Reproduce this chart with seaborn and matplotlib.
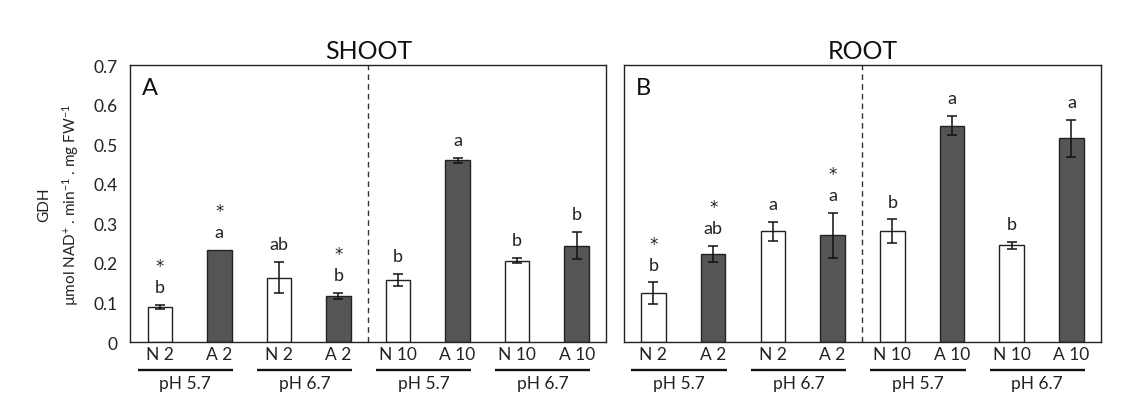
import numpy as np
import pandas as pd
import matplotlib
matplotlib.use("Agg")
import matplotlib.pyplot as plt
import seaborn as sns

sns.set_theme(style="white")
plt.rcParams["font.family"] = ["Lato", "DejaVu Sans"]
plt.rcParams["mathtext.fontset"] = "custom"
plt.rcParams["mathtext.rm"] = "Lato"
plt.rcParams["mathtext.it"] = "Lato:italic"

# ---- data -------------------------------------------------------------
treatments = ["N 2", "A 2", "N 2", "A 2", "N 10", "A 10", "N 10", "A 10"]
nitrogen_form = ["N", "A", "N", "A", "N", "A", "N", "A"]
ph_groups = ["pH 5.7", "pH 6.7", "pH 5.7", "pH 6.7"]

shoot_mean = [0.089, 0.234, 0.163, 0.117, 0.157, 0.459, 0.206, 0.244]
shoot_err = [0.005, 0.0, 0.040, 0.008, 0.015, 0.006, 0.006, 0.034]
shoot_letters = ["b", "a", "ab", "b", "b", "a", "b", "b"]
shoot_star = [True, True, False, True, False, False, False, False]

root_mean = [0.124, 0.223, 0.280, 0.270, 0.280, 0.547, 0.245, 0.515]
root_err = [0.027, 0.020, 0.024, 0.057, 0.030, 0.024, 0.009, 0.047]
root_letters = ["b", "ab", "a", "a", "b", "a", "b", "a"]
root_star = [True, True, False, True, False, False, False, False]

colors = {"N": "#ffffff", "A": "#555555"}
TXT = "#222222"

fig = plt.figure(figsize=(11.4, 4.1), dpi=100)
ax_a = fig.add_axes([0.114, 0.163, 0.418, 0.676])
ax_b = fig.add_axes([0.547, 0.163, 0.419, 0.676])


def draw_panel(ax, means, errs, letters, stars, title, tag, show_ylabels):
    keys = [f"{t}|{i}" for i, t in enumerate(treatments)]
    df = pd.DataFrame({"key": keys, "value": means, "form": nitrogen_form})
    sns.barplot(data=df, x="key", y="value", hue="form", order=keys,
                palette=colors, dodge=False, width=0.41, errorbar=None,
                edgecolor="#222222", linewidth=1.0, legend=False, ax=ax)
    xs = np.arange(len(means))
    m = np.array(means)
    e = np.array(errs)
    has_err = e > 0
    ax.errorbar(xs[has_err], m[has_err], yerr=e[has_err], fmt="none",
                ecolor="#111111", elinewidth=1.1, capsize=3.5, capthick=1.1)

    tops = m + e
    for x, top, lab, st in zip(xs, tops, letters, stars):
        ax.text(x, top + 0.045, lab, ha="center", va="center", fontsize=13,
                color=TXT)
        if st:
            ax.text(x, top + 0.098, "*", ha="center", va="center",
                    fontsize=12, color=TXT, family="DejaVu Sans")

    ax.axvline(3.5, color="#333333", lw=1.0, ls=(0, (4, 3)))
    ax.set_xlim(-0.5, 7.5)
    ax.set_ylim(0, 0.7)
    ax.set_yticks(np.arange(0, 0.71, 0.1))
    ax.set_xticks(xs)
    ax.set_xticklabels(treatments, fontsize=12.5, color=TXT)
    ax.tick_params(axis="x", length=0, pad=3)
    if show_ylabels:
        ax.set_yticklabels(["0"] + [f"{v:.1f}" for v in np.arange(0.1, 0.71, 0.1)],
                           fontsize=12.5, color=TXT)
        ax.tick_params(axis="y", direction="out", length=4, width=1,
                       color="#222222", pad=5)
    else:
        ax.set_yticklabels([])
        ax.tick_params(axis="y", direction="in", length=5, width=1,
                       color="#222222")
    ax.set_xlabel("")
    ax.set_ylabel("")
    for sp in ax.spines.values():
        sp.set_color("#222222")
        sp.set_linewidth(1.0)

    ax.set_title(title, fontsize=18, pad=5, color="#111111")
    ax.text(0.025, 0.955, tag, transform=ax.transAxes, ha="left", va="top",
            fontsize=17, color="#111111")

    # pH group brackets under the tick labels
    trans = ax.get_xaxis_transform()
    for g, ph in enumerate(ph_groups):
        x0 = 2 * g - 0.37
        x1 = 2 * g + 1.23
        ax.plot([x0, x1], [-0.10, -0.10], transform=trans, color="#111111",
                lw=1.7, clip_on=False, solid_capstyle="butt")
        ax.text((x0 + x1) / 2, -0.148, ph, transform=trans, ha="center",
                va="center", fontsize=12.5, color=TXT)


draw_panel(ax_a, shoot_mean, shoot_err, shoot_letters, shoot_star,
           "SHOOT", "A", True)
draw_panel(ax_b, root_mean, root_err, root_letters, root_star,
           "ROOT", "B", False)

fig.text(0.039, 0.50, "GDH", rotation=90, ha="center", va="center",
         fontsize=11, color=TXT)
fig.text(0.062, 0.50, r"µmol NAD$^{+}$ . min$^{-1}$ . mg FW$^{-1}$",
         rotation=90, ha="center", va="center", fontsize=11, color=TXT)

fig.savefig("out.png", dpi=100, facecolor="white")
